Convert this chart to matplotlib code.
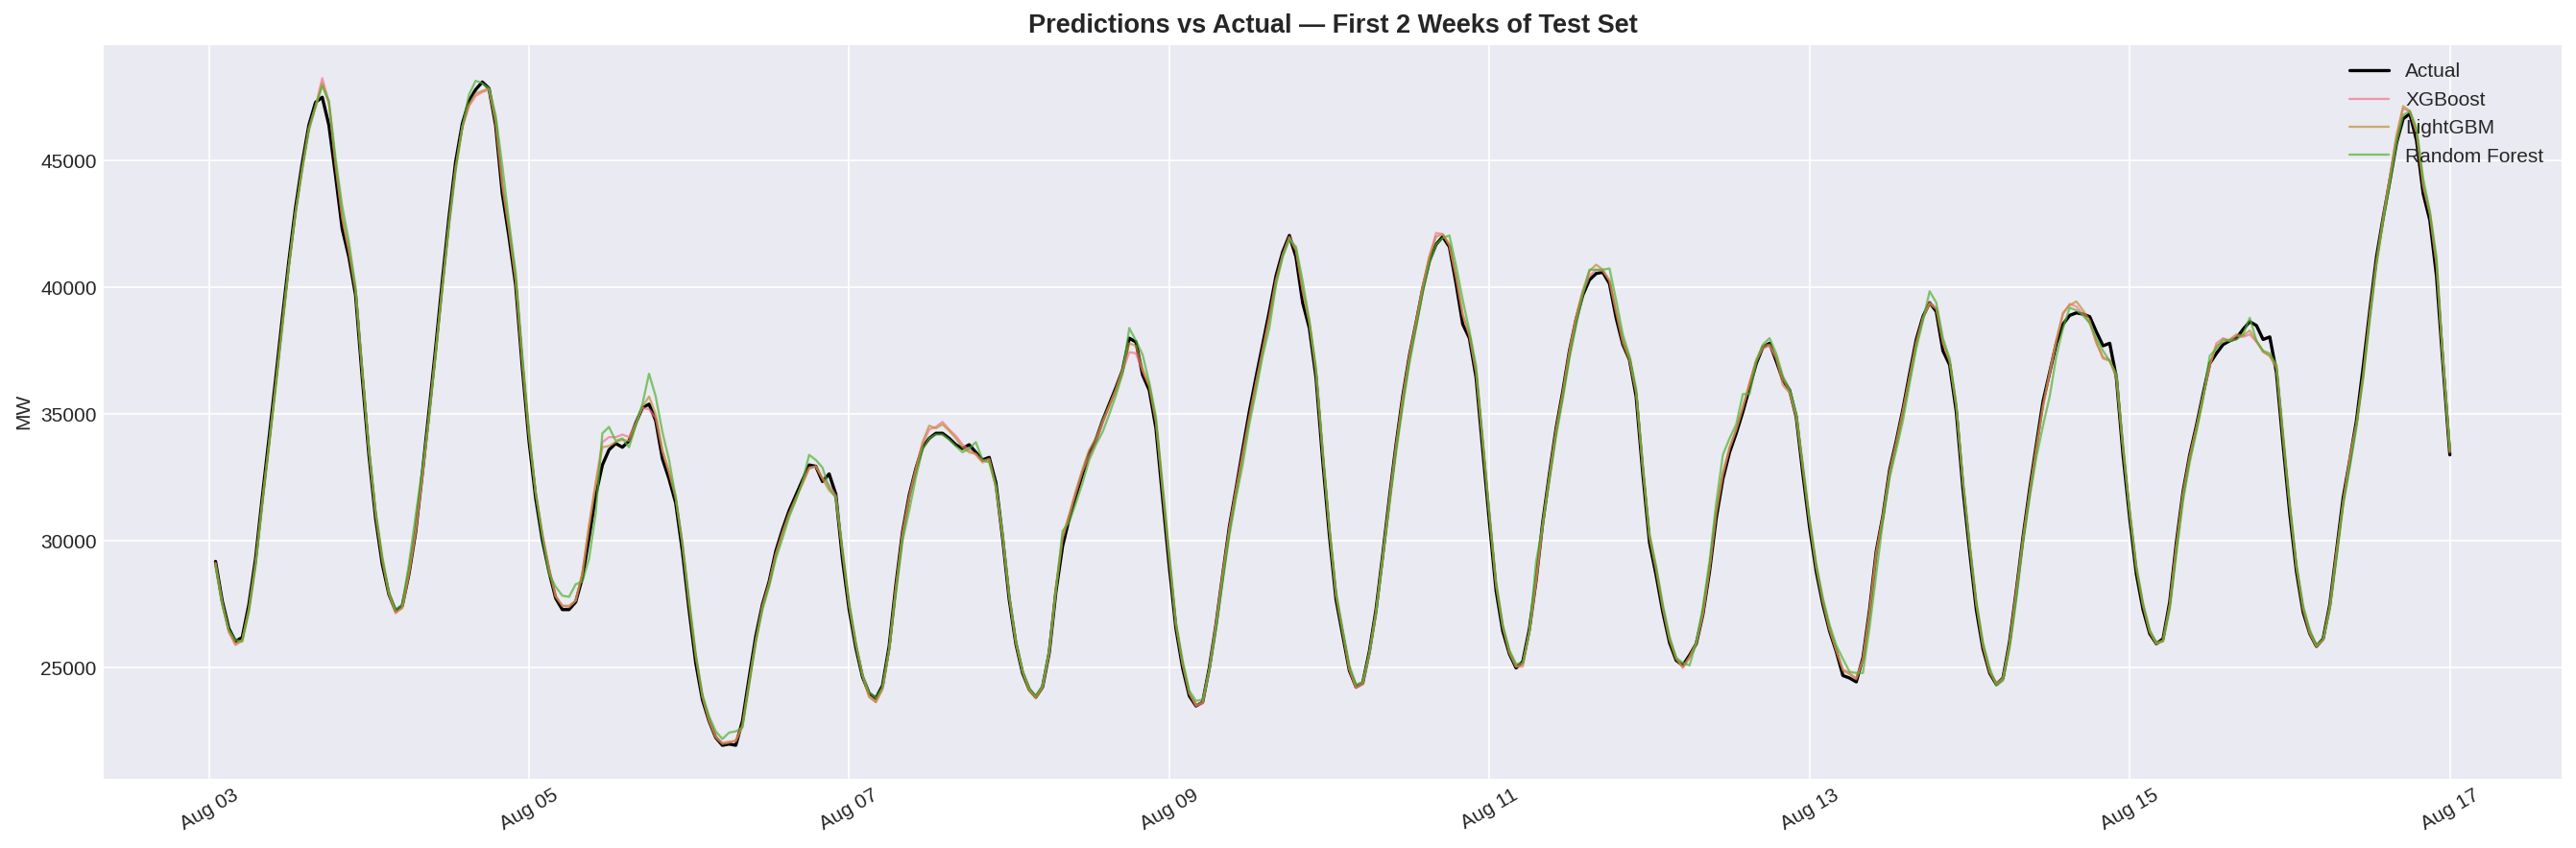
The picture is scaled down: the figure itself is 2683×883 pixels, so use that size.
import matplotlib
matplotlib.use('Agg')
import matplotlib.pyplot as plot
import matplotlib.dates as mdates
import pandas as pd

# hourly load, first two weeks of the test set (one row = one day, 01:00 .. 00:00)
START = '2015-08-03 01:00'

ACTUAL = [
    29200, 27650, 26550, 26050, 26200, 27500, 29300, 31700, 34000, 36350, 38750, 41050, 43150, 44900, 46400, 47300, 47500, 46400, 44400, 42300, 41200, 39700, 36450, 33400,
    30900, 29100, 27900, 27250, 27450, 28700, 30350, 32650, 35100, 37600, 40250, 42750, 44950, 46450, 47350, 47800, 48100, 47850, 46400, 43700, 42000, 40100, 36850, 33950,
    31700, 30050, 28800, 27750, 27300, 27300, 27600, 28550, 30150, 31800, 33000, 33600, 33850, 33700, 33950, 34650, 35250, 35400, 34750, 33250, 32450, 31500, 29600, 27300,
    25200, 23750, 22900, 22250, 21950, 22000, 21950, 22900, 24600, 26250, 27500, 28400, 29600, 30450, 31200, 31800, 32400, 33000, 32950, 32350, 32650, 31850, 29300, 27300,
    25800, 24650, 24000, 23800, 24300, 25850, 28250, 30350, 31800, 32850, 33700, 34050, 34250, 34250, 34050, 33800, 33650, 33800, 33500, 33200, 33300, 32300, 30150, 27700,
    25950, 24800, 24150, 23850, 24250, 25600, 28000, 29800, 30900, 31800, 32650, 33450, 34000, 34750, 35400, 36050, 36750, 38000, 37850, 36550, 35950, 34450, 31700, 29000,
    26550, 25000, 23900, 23500, 23650, 25000, 26700, 28650, 30550, 32050, 33600, 35100, 36450, 37750, 39050, 40450, 41400, 42050, 41200, 39400, 38400, 36450, 33200, 30250,
    27700, 26300, 24900, 24250, 24400, 25650, 27300, 29450, 31700, 33800, 35700, 37300, 38600, 39950, 41050, 41700, 42000, 41600, 40150, 38550, 38000, 36450, 33600, 30750,
    28050, 26450, 25550, 25000, 25250, 26550, 28450, 30750, 32650, 34450, 35900, 37500, 38750, 39700, 40300, 40550, 40600, 40150, 38800, 37750, 37150, 35700, 32650, 29950,
    28650, 27200, 26000, 25300, 25100, 25500, 25950, 27100, 28800, 30900, 32450, 33500, 34250, 35100, 36050, 37000, 37650, 37800, 37100, 36350, 35950, 34900, 32650, 30550,
    28800, 27500, 26450, 25650, 24700, 24600, 24450, 25400, 27300, 29600, 31000, 32800, 33950, 35200, 36600, 37950, 38850, 39400, 39050, 37500, 36950, 35100, 32050, 29600,
    27300, 25750, 24800, 24350, 24600, 26050, 28050, 30150, 32050, 33800, 35500, 36650, 37800, 38550, 38900, 39000, 38950, 38850, 38250, 37700, 37800, 36450, 33400, 30900,
    28700, 27300, 26350, 25950, 26150, 27600, 29950, 31950, 33400, 34550, 35800, 37000, 37400, 37750, 37900, 38000, 38350, 38650, 38500, 37950, 38050, 36650, 33800, 31100,
    28800, 27200, 26350, 25850, 26150, 27500, 29600, 31700, 33200, 34750, 36850, 39100, 41200, 42750, 44200, 45700, 46650, 46850, 45800, 43700, 42650, 40450, 36850, 33400,
]

XGBOOST = [
    29100, 27550, 26400, 25900, 26100, 27300, 29100, 31500, 33750, 36100, 38500, 40850, 42950, 44700, 46300, 47150, 48250, 47300, 44900, 42800, 41500, 39900, 36700, 33600,
    31100, 29300, 27950, 27150, 27400, 28750, 30400, 32500, 34900, 37400, 40000, 42500, 44700, 46300, 47150, 47550, 47700, 47800, 46600, 44100, 42300, 40300, 37100, 34200,
    31950, 30300, 28950, 27850, 27450, 27400, 27650, 28700, 30600, 32300, 33900, 34100, 34100, 34200, 34100, 34650, 35250, 35200, 34850, 33550, 32700, 31700, 29900, 27550,
    25500, 23900, 22950, 22300, 22050, 22100, 22100, 22700, 24400, 26050, 27400, 28300, 29450, 30300, 31050, 31650, 32300, 32900, 32950, 32500, 32200, 31800, 29600, 27500,
    25950, 24750, 23900, 23650, 24150, 25700, 28100, 30250, 31700, 32800, 33800, 34400, 34500, 34700, 34400, 34150, 33800, 33600, 33400, 33100, 33200, 32100, 30200, 27800,
    26000, 24850, 24150, 23850, 24250, 25600, 28100, 30100, 31000, 31900, 32750, 33350, 33900, 34650, 35300, 35950, 36700, 37450, 37400, 36700, 36100, 34700, 32000, 29300,
    26700, 25150, 24000, 23500, 23600, 24950, 26750, 28700, 30500, 32000, 33450, 34900, 36250, 37550, 38850, 40300, 41300, 42000, 41500, 39900, 38650, 36700, 33500, 30500,
    27900, 26450, 24950, 24200, 24350, 25550, 27200, 29350, 31600, 33700, 35600, 37250, 38600, 40000, 41200, 42150, 42100, 41650, 40400, 38900, 38100, 36650, 33850, 31000,
    28300, 26650, 25600, 25050, 25050, 26450, 28400, 30650, 32550, 34350, 35800, 37450, 38800, 39800, 40450, 40700, 40650, 40300, 39100, 37950, 37200, 35900, 32900, 30200,
    28900, 27400, 26150, 25400, 25000, 25400, 25950, 27100, 28900, 31100, 32600, 33650, 34400, 35300, 36200, 37100, 37600, 37700, 37200, 36400, 35900, 34950, 32900, 30800,
    29000, 27650, 26550, 25700, 24950, 24800, 24550, 25300, 27200, 29500, 30950, 32700, 33850, 35100, 36450, 37800, 38800, 39400, 39200, 37800, 37100, 35300, 32300, 29800,
    27550, 25900, 24850, 24350, 24550, 25950, 28000, 30050, 31900, 33650, 35300, 36600, 37900, 38950, 39350, 39250, 38950, 38600, 37800, 37250, 37150, 36500, 33700, 31150,
    28950, 27500, 26450, 25950, 26050, 27450, 29800, 31850, 33300, 34450, 35700, 36900, 37800, 38000, 37900, 38100, 38050, 38150, 37850, 37500, 37300, 36900, 34100, 31400,
    29000, 27350, 26400, 25850, 26100, 27400, 29500, 31500, 33300, 34600, 36500, 38900, 41000, 42700, 44300, 45950, 47050, 46950, 46100, 44000, 42900, 40900, 37000, 33500,
]

LIGHTGBM = [
    29150, 27600, 26450, 25950, 26050, 27350, 29150, 31550, 33800, 36150, 38550, 40900, 43000, 44750, 46250, 47100, 48050, 47250, 44800, 42700, 41400, 39850, 36650, 33550,
    31050, 29250, 27900, 27200, 27350, 28700, 30350, 32550, 34950, 37450, 40050, 42550, 44750, 46350, 47200, 47650, 47750, 47850, 46500, 44000, 42250, 40300, 37050, 34150,
    31900, 30250, 28900, 27800, 27450, 27450, 27650, 28750, 30600, 32250, 33700, 33750, 33900, 34000, 33950, 34600, 35300, 35700, 35000, 33600, 32750, 31750, 29900, 27550,
    25450, 23850, 22900, 22250, 22000, 22050, 22150, 22750, 24450, 26100, 27450, 28350, 29500, 30350, 31100, 31700, 32250, 32850, 32950, 32450, 32000, 31750, 29550, 27450,
    25900, 24700, 23850, 23650, 24200, 25750, 28150, 30300, 31750, 32850, 33900, 34550, 34450, 34600, 34350, 34050, 33700, 33500, 33450, 33150, 33250, 32150, 30250, 27850,
    26000, 24850, 24100, 23800, 24250, 25650, 28200, 30200, 31050, 32000, 32850, 33600, 34050, 34750, 35350, 36000, 36800, 37800, 37700, 36800, 36150, 34750, 32050, 29350,
    26700, 25150, 24000, 23550, 23650, 24950, 26700, 28650, 30450, 31950, 33400, 34850, 36200, 37500, 38800, 40250, 41250, 41950, 41450, 39850, 38600, 36650, 33450, 30450,
    27850, 26400, 24950, 24250, 24400, 25600, 27250, 29400, 31650, 33750, 35650, 37300, 38650, 40050, 41250, 42000, 42100, 41700, 40450, 38950, 38150, 36700, 33900, 31050,
    28250, 26600, 25600, 25050, 25150, 26500, 28450, 30700, 32600, 34400, 35850, 37500, 38850, 39900, 40650, 40900, 40700, 40250, 39000, 37800, 37150, 35850, 32850, 30150,
    28850, 27350, 26100, 25350, 25050, 25450, 26000, 27150, 28950, 31150, 32700, 33700, 34400, 35250, 36250, 37150, 37700, 37750, 37250, 36150, 35850, 34900, 32850, 30750,
    28950, 27600, 26500, 25700, 24900, 24750, 24600, 25350, 27250, 29550, 31000, 32750, 33900, 35150, 36500, 37850, 38800, 39350, 39150, 37850, 37100, 35350, 32350, 29850,
    27500, 25850, 24850, 24400, 24600, 26000, 28050, 30100, 31950, 33700, 35350, 36650, 37950, 39000, 39300, 39450, 39100, 38700, 37850, 37200, 37100, 36450, 33650, 31100,
    28900, 27450, 26400, 25950, 26100, 27500, 29850, 31900, 33350, 34500, 35750, 36950, 37700, 37850, 37950, 38150, 38100, 38300, 37900, 37450, 37300, 36800, 34050, 31350,
    28950, 27300, 26350, 25850, 26100, 27450, 29550, 31550, 33250, 34650, 36550, 38950, 41050, 42750, 44350, 46000, 47150, 46950, 46150, 44050, 42950, 40950, 37050, 33550,
]

RANDOM_FOREST = [
    29000, 27500, 26500, 26100, 26050, 27200, 29000, 31400, 33700, 36000, 38400, 40800, 42900, 44650, 46200, 47150, 47950, 47350, 45100, 43200, 41800, 40000, 36800, 33700,
    31200, 29400, 28000, 27300, 27500, 29100, 31000, 32800, 34800, 37300, 39900, 42400, 44600, 46300, 47600, 48150, 48050, 47850, 46800, 44800, 42600, 40600, 37300, 34400,
    31900, 30200, 28700, 28200, 27850, 27800, 28300, 28400, 29300, 31100, 34250, 34500, 33950, 34050, 33700, 34550, 35400, 36600, 35700, 34300, 33200, 31700, 29900, 27700,
    25550, 23950, 23100, 22500, 22200, 22450, 22500, 22650, 24300, 26000, 27300, 28200, 29300, 30100, 30950, 31600, 32350, 33400, 33200, 32900, 32100, 31700, 29700, 27600,
    26000, 24700, 24050, 23800, 24250, 25700, 27900, 30000, 31200, 32500, 33600, 34050, 34200, 34200, 34000, 33750, 33500, 33650, 33900, 33200, 33100, 32200, 30300, 27900,
    26100, 24900, 24200, 23900, 24300, 25700, 28000, 30400, 30750, 31500, 32300, 33200, 33800, 34300, 35000, 35750, 36600, 38400, 37900, 37350, 36250, 34900, 32200, 29500,
    26800, 25300, 24100, 23700, 23750, 24900, 26500, 28400, 30200, 31700, 33000, 34600, 35900, 37300, 38400, 40100, 41200, 41900, 41600, 40250, 38700, 36800, 33600, 30600,
    28000, 26500, 25100, 24350, 24450, 25550, 27100, 29300, 31400, 33500, 35300, 37000, 38400, 39800, 40950, 41700, 41950, 42050, 40850, 39500, 38300, 36900, 34000, 31100,
    28400, 26700, 25700, 25150, 25200, 26400, 29200, 30600, 32400, 34150, 35600, 37200, 38500, 39700, 40700, 40700, 40700, 40750, 39500, 38150, 37300, 36000, 33000, 30300,
    29000, 27500, 26250, 25400, 25200, 25100, 26000, 27400, 29200, 31500, 33400, 34050, 34600, 35800, 35800, 37050, 37750, 38000, 37400, 36500, 36000, 35050, 33000, 30900,
    29100, 27750, 26700, 25900, 25350, 24850, 24800, 24800, 26600, 28700, 30800, 32500, 33600, 34750, 36200, 37600, 38700, 39850, 39400, 38000, 37200, 35400, 32400, 29900,
    27650, 26000, 25000, 24300, 24500, 25800, 27700, 29900, 31700, 33300, 34550, 35700, 37300, 38400, 39200, 39100, 38900, 38600, 38000, 37500, 37100, 36600, 33800, 31200,
    29000, 27550, 26500, 26000, 26050, 27300, 29500, 31600, 33100, 34300, 35600, 37300, 37600, 37950, 37900, 37950, 38150, 38800, 37900, 37500, 37400, 36950, 34200, 31500,
    29100, 27450, 26500, 25900, 26150, 27300, 29300, 31400, 32900, 34500, 36400, 38700, 40900, 42600, 44100, 45700, 46800, 46950, 46300, 44300, 43000, 41200, 37100, 33600,
]

MODELS = ['XGBoost', 'LightGBM', 'Random Forest']
MODEL_COLORS = ['#f77189', '#bf8f36', '#50b131']


def plot_predictions(filename):
    plot.style.use('seaborn-v0_8-darkgrid')
    plot.rcParams['font.family'] = ['Liberation Sans', 'DejaVu Sans']

    index = pd.date_range(START, periods=len(ACTUAL), freq='h')

    fig = plot.figure(figsize=(2683 / 150, 883 / 150), dpi=150)
    ax = fig.add_subplot(111)
    fig.subplots_adjust(left=0.0403, right=0.9944, top=0.9471, bottom=0.0818)

    ax.plot(index, ACTUAL, label='Actual', color='black', linewidth=1.6)
    for name, values, color in zip(MODELS, [XGBOOST, LIGHTGBM, RANDOM_FOREST], MODEL_COLORS):
        ax.plot(index, values, label=name, color=color, linewidth=1.1, alpha=0.7)

    ax.set_title('Predictions vs Actual \u2014 First 2 Weeks of Test Set',
                 fontsize=13, fontweight='bold')
    ax.set_ylabel('MW')
    ax.xaxis.set_major_formatter(mdates.DateFormatter('%b %d'))
    ax.legend(loc='upper right')

    # rotated date labels, centred on their ticks
    plot.setp(ax.get_xticklabels(), rotation=30, ha='center')

    fig.savefig(filename, dpi=150)


if __name__ == '__main__':
    plot_predictions('out.png')
